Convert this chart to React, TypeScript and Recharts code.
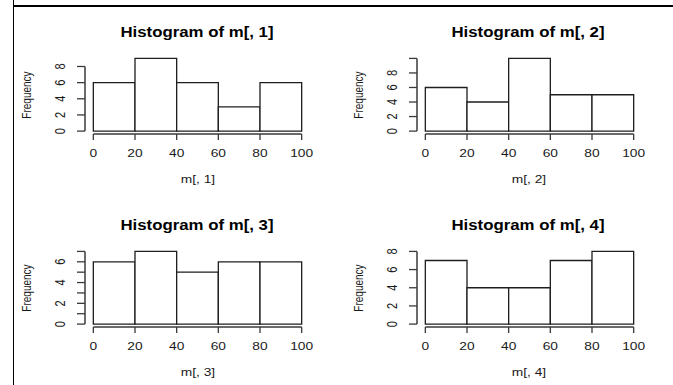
import React from 'react';
import { ComposedChart, XAxis, YAxis, ReferenceArea, ReferenceLine } from 'recharts';

const binEdges = [0, 20, 40, 60, 80, 100];
const xTicks = [0, 20, 40, 60, 80, 100];

const counts1 = [6, 9, 6, 3, 6];
const counts2 = [6, 4, 10, 5, 5];
const counts3 = [6, 7, 5, 6, 6];
const counts4 = [7, 4, 4, 7, 8];

const yTicks1 = [0, 2, 4, 6, 8];
const yTicks2 = [0, 2, 4, 6, 8, 10];
const yTicks3 = [0, 1, 2, 3, 4, 5, 6, 7];
const yTicks4 = [0, 2, 4, 6, 8];

const yLabels1 = [0, 2, 4, 6, 8];
const yLabels2 = [0, 2, 4, 6, 8];
const yLabels3 = [0, 2, 4, 6];
const yLabels4 = [0, 2, 4, 6, 8];

const titles = ['Histogram of m[, 1]', 'Histogram of m[, 2]', 'Histogram of m[, 3]', 'Histogram of m[, 4]'];
const xLabels = ['m[, 1]', 'm[, 2]', 'm[, 3]', 'm[, 4]'];

const FONT = '"Liberation Sans", Arial, sans-serif';
const STRETCH = 1.25;
const PANEL_W = 331.7;
const PANEL_H = 193;
const CHART_W = 332;
const PLOT_LEFT = 73;
const PLOT_TOP = 55.5;
const PLOT_W = 225;
const PLOT_H = 78.5;
const AXIS_COLOR = '#3a3a3a';
const BAR_COLOR = '#1e1e1e';

type PanelProps = {
  counts: number[];
  yTicks: number[];
  yLabels: number[];
  title: string;
  xLabel: string;
  left: number;
  top: number;
};

const XTick = (props: any) => {
  const { x, y, payload } = props;
  return (
    <g transform={`translate(${x},${y + 16.5}) scale(${STRETCH},1)`}>
      <text x={0} y={0} textAnchor="middle" fontSize={11} fontFamily={FONT} fill="#1a1a1a">
        {payload.value}
      </text>
    </g>
  );
};

const makeYTick = (labels: number[]) => (props: any) => {
  const { x, y, payload } = props;
  if (!labels.includes(payload.value)) return <g />;
  return (
    <g transform={`translate(${x - 12},${y}) scale(${STRETCH},1) rotate(-90)`}>
      <text x={0} y={0} textAnchor="middle" fontSize={11} fontFamily={FONT} fill="#1a1a1a">
        {payload.value}
      </text>
    </g>
  );
};

const textStyle = (cx: number, cy: number, size: number, bold: boolean, stretch = STRETCH, rotate = false): React.CSSProperties => ({
  position: 'absolute',
  left: cx,
  top: cy,
  transform: `translate(-50%, -50%) scaleX(${stretch})${rotate ? ' rotate(-90deg)' : ''}`,
  fontFamily: FONT,
  fontSize: size,
  fontWeight: bold ? 700 : 400,
  lineHeight: 1,
  whiteSpace: 'nowrap',
  color: bold ? '#000' : '#1a1a1a',
});

const HistPanel = ({ counts, yTicks, yLabels, title, xLabel, left, top }: PanelProps) => {
  const max = Math.max(...counts);
  // R pads the plotting region by 4% on each side
  const yMin = -0.04 * max;
  const yMax = 1.04 * max;
  const bins = counts.map((c, i) => ({ lo: binEdges[i], hi: binEdges[i + 1], count: c }));
  const yTop = yTicks[yTicks.length - 1];
  const cx = left + PLOT_LEFT + PLOT_W / 2;

  return (
    <>
      <div style={{ position: 'absolute', left, top }}>
        <ComposedChart
          width={CHART_W}
          height={PANEL_H}
          data={bins}
          margin={{ top: PLOT_TOP, right: CHART_W - PLOT_LEFT - PLOT_W, bottom: PANEL_H - PLOT_TOP - PLOT_H - 30, left: 0 }}
        >
          <XAxis
            type="number"
            dataKey="lo"
            domain={[-4, 104]}
            ticks={xTicks}
            allowDataOverflow
            axisLine={false}
            tickSize={6}
            tickMargin={0}
            tickLine={{ stroke: AXIS_COLOR, strokeWidth: 1.3 }}
            tick={<XTick />}
            height={30}
            interval={0}
          />
          <YAxis
            type="number"
            domain={[yMin, yMax]}
            ticks={yTicks}
            allowDataOverflow
            axisLine={false}
            tickSize={8}
            tickMargin={0}
            tickLine={{ stroke: AXIS_COLOR, strokeWidth: 1.3 }}
            tick={makeYTick(yLabels)}
            width={PLOT_LEFT}
            interval={0}
          />
          {bins.map((b) => (
            <ReferenceArea
              key={b.lo}
              x1={b.lo}
              x2={b.hi}
              y1={0}
              y2={b.count}
              fill="#fff"
              fillOpacity={1}
              stroke={BAR_COLOR}
              strokeWidth={1.3}
            />
          ))}
          <ReferenceLine
            segment={[{ x: 0, y: yMin }, { x: 100, y: yMin }]}
            stroke={AXIS_COLOR}
            strokeWidth={1.5}
          />
          <ReferenceLine
            segment={[{ x: -4, y: 0 }, { x: -4, y: yTop }]}
            stroke={AXIS_COLOR}
            strokeWidth={1.5}
          />
        </ComposedChart>
      </div>
      <div style={textStyle(cx - 1, top + 32, 14, true, 1.2)}>{title}</div>
      <div style={textStyle(cx, top + 179, 11, false)}>{xLabel}</div>
      <div style={textStyle(left + 15, top + PLOT_TOP + PLOT_H / 2, 10, false, STRETCH, true)}>Frequency</div>
    </>
  );
};

export default function App() {
  const x0 = 12;
  return (
    <div style={{ position: 'absolute', left: 0, top: 0, width: 673, height: 385, background: '#fff', overflow: 'hidden' }}>
      {/* frame edges */}
      <div style={{ position: 'absolute', left: 12.5, top: 0, width: 1.5, height: 385, background: '#000' }} />
      <div style={{ position: 'absolute', left: 13, top: 5, width: 660, height: 1.5, background: '#000' }} />
      <HistPanel counts={counts1} yTicks={yTicks1} yLabels={yLabels1} title={titles[0]} xLabel={xLabels[0]} left={x0} top={0} />
      <HistPanel counts={counts2} yTicks={yTicks2} yLabels={yLabels2} title={titles[1]} xLabel={xLabels[1]} left={x0 + PANEL_W} top={0} />
      <HistPanel counts={counts3} yTicks={yTicks3} yLabels={yLabels3} title={titles[2]} xLabel={xLabels[2]} left={x0} top={PANEL_H} />
      <HistPanel counts={counts4} yTicks={yTicks4} yLabels={yLabels4} title={titles[3]} xLabel={xLabels[3]} left={x0 + PANEL_W} top={PANEL_H} />
    </div>
  );
}
